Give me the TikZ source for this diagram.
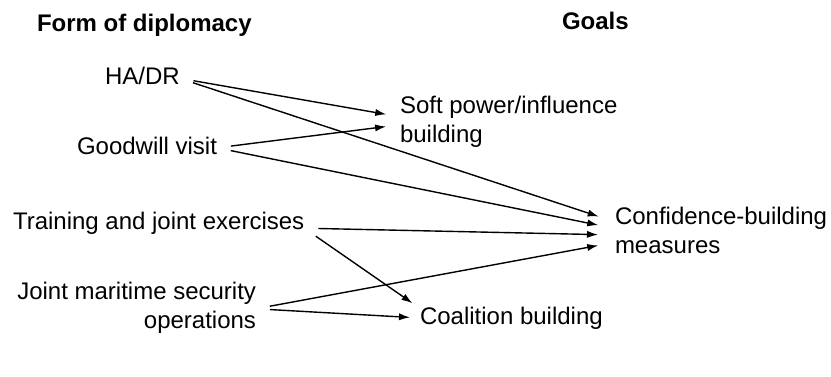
\documentclass[tikz,border=0pt]{standalone}
\usepackage{fontspec}
\setmainfont{Liberation Sans}
\usetikzlibrary{arrows.meta}

\tikzset{
  lbl/.style={inner sep=0pt, outer sep=0pt, font=\fontsize{12}{14.6}\selectfont},
  head/.style={lbl, font=\fontsize{12}{14.6}\selectfont\bfseries},
  link/.style={-{Latex[length=5.5pt,width=3.6pt]}, line width=0.7pt, shorten <=7pt, shorten >=7pt},
}

\begin{document}
\begin{tikzpicture}[x=0.5pt, y=-0.5pt]
  \useasboundingbox (0,0) rectangle (831,376);
  % column headings
  \node[head, anchor=north west] (form) at (37,14) {Form of diplomacy};
  \node[head, anchor=north west] (goals) at (562,12) {Goals};
  % forms of diplomacy
  \node[lbl, anchor=north west] (hadr) at (105,67) {HA/DR};
  \node[lbl, anchor=north west] (goodwill) at (77,137) {Goodwill visit};
  \node[lbl, anchor=north west] (training) at (13,212) {Training and joint exercises};
  \node[lbl, anchor=north east, align=right] (joint) at (256,282) {Joint maritime security\\operations};
  % goals
  \node[lbl, anchor=north west, align=left] (soft) at (400,96) {Soft power/influence\\building};
  \node[lbl, anchor=north west, align=left] (conf) at (615,207) {Confidence-building\\measures};
  \node[lbl, anchor=north west] (coal) at (420,307) {Coalition building};
  % links
  \foreach \src/\sy/\dst/\dx/\dy in {hadr/-1.25/soft/0/2.5, hadr/-1.25/conf/-1.5/4.75,
      goodwill/-1/soft/0/-1.5, goodwill/-1/conf/-1.5/1.25,
      training/-2.5/conf/-1.5/-2.25, training/-2.5/coal/2/3.5,
      joint/-0.5/conf/-1.5/-6.25, joint/-0.5/coal/2/0}
    \draw[link] ([yshift=\sy pt]\src.east) -- ([xshift=\dx pt, yshift=\dy pt]\dst.west);
\end{tikzpicture}
\end{document}
